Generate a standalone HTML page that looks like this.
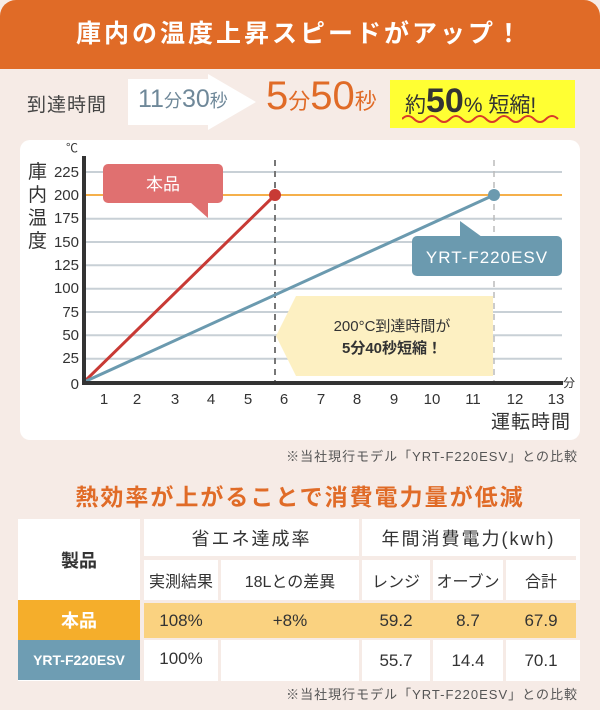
<!DOCTYPE html>
<html><head><meta charset="utf-8">
<style>
*{margin:0;padding:0;box-sizing:border-box}
body{width:600px;height:710px;background:#F6EBE6;font-family:"Liberation Sans","Noto Sans CJK JP",sans-serif;position:relative;overflow:hidden;color:#333}
.a{position:absolute;white-space:nowrap}
.hdr{left:0;top:0;width:600px;height:69px;background:#E06B27;border-radius:16px 16px 0 0;color:#fff;font-size:25px;font-weight:bold;text-align:center;line-height:68px;letter-spacing:3px}
.c{position:absolute;background:#fff;display:flex;align-items:center;justify-content:center;font-size:17px;color:#333}
</style></head><body>
<div class="a hdr">庫内の温度上昇スピードがアップ！</div>

<div class="a" style="left:27px;top:90px;font-size:19px;color:#444;letter-spacing:1px">到達時間</div>
<svg class="a" style="left:128px;top:74px" width="130" height="56"><polygon points="0,5 80,5 80,0 128,28 80,56 80,51 0,51" fill="#fff"/></svg>
<div class="a" style="left:138px;top:85px;color:#6F8899;font-size:25px">11<span style="font-size:18px">分</span>30<span style="font-size:18px">秒</span></div>
<div class="a" style="left:266px;top:74px;color:#E06B27;font-size:40px">5<span style="font-size:22px">分</span>50<span style="font-size:22px">秒</span></div>
<div class="a" style="left:390px;top:80px;width:185px;height:48px;background:#FFFF33"></div>
<div class="a" style="left:405px;top:82px;font-size:21px;color:#333">約<span style="font-size:34px;font-weight:bold">50</span>% 短縮!</div>
<svg class="a" style="left:402px;top:114px" width="162" height="10"><path d="M0,5 q6,-6 12,0 t12,0 t12,0 t12,0 t12,0 t12,0 t12,0 t12,0 t12,0 t12,0 t12,0 t12,0 t12,0" stroke="#D83A2A" stroke-width="2" fill="none"/></svg>

<div class="a" style="left:20px;top:140px;width:560px;height:300px;background:#fff;border-radius:10px"></div>
<svg class="a" style="left:0;top:0" width="600" height="440" font-family="Liberation Sans,Noto Sans CJK JP,sans-serif">
<g stroke="#C8D0D6" stroke-width="2">
<line x1="84" x2="562" y1="172" y2="172"/><line x1="84" x2="562" y1="218.7" y2="218.7"/><line x1="84" x2="562" y1="242" y2="242"/><line x1="84" x2="562" y1="265.3" y2="265.3"/><line x1="84" x2="562" y1="288.7" y2="288.7"/><line x1="84" x2="562" y1="312" y2="312"/><line x1="84" x2="562" y1="335.3" y2="335.3"/><line x1="84" x2="562" y1="358.7" y2="358.7"/>
</g>
<line x1="84" x2="562" y1="195" y2="195" stroke="#F5B04B" stroke-width="2"/>
<line x1="275" x2="275" y1="160" y2="382" stroke="#777" stroke-width="2" stroke-dasharray="6,5"/>
<line x1="494" x2="494" y1="160" y2="382" stroke="#bbb" stroke-width="1.5" stroke-dasharray="6,5"/>
<polygon points="276,336 296,296 493,296 493,376 296,376" fill="#FDF0C2"/>
<text x="392" y="331" font-size="15" text-anchor="middle" fill="#333">200°C到達時間が</text>
<text x="392" y="353" font-size="15" font-weight="bold" text-anchor="middle" fill="#333">5分40秒短縮！</text>
<line x1="84" y1="382" x2="275" y2="195" stroke="#C83A35" stroke-width="3"/>
<line x1="84" y1="382" x2="494" y2="195" stroke="#6B9AAF" stroke-width="3"/>
<circle cx="275" cy="195" r="6" fill="#C83A35"/>
<circle cx="494" cy="195" r="6" fill="#6B9AAF"/>
<rect x="103" y="164" width="120" height="39" rx="5" fill="#E07070"/>
<polygon points="190,202 208,202 208,218" fill="#E07070"/>
<text x="163" y="190" font-size="17" fill="#fff" text-anchor="middle">本品</text>
<rect x="412" y="236" width="150" height="40" rx="5" fill="#6B9AAF"/>
<polygon points="460,237 482,237 460,221" fill="#6B9AAF"/>
<text x="487" y="263" font-size="17" fill="#fff" text-anchor="middle" letter-spacing="1">YRT-F220ESV</text>
<line x1="84" y1="156" x2="84" y2="385" stroke="#333" stroke-width="4"/>
<line x1="82" y1="383" x2="563" y2="383" stroke="#333" stroke-width="4"/>
<g font-size="15" fill="#333" text-anchor="end">
<text x="79" y="177">225</text><text x="79" y="200">200</text><text x="79" y="223">175</text><text x="79" y="247">150</text><text x="79" y="270">125</text><text x="79" y="293">100</text><text x="79" y="317">75</text><text x="79" y="340">50</text><text x="79" y="363">25</text><text x="79" y="389">0</text>
</g>
<text x="66" y="152" font-size="12" fill="#333">℃</text>
<g font-size="19" fill="#333"><text x="28" y="178">庫</text><text x="28" y="201">内</text><text x="28" y="224">温</text><text x="28" y="247">度</text></g>
<g font-size="15" fill="#333" text-anchor="middle">
<text x="104" y="404">1</text><text x="137" y="404">2</text><text x="175" y="404">3</text><text x="211" y="404">4</text><text x="248" y="404">5</text><text x="284" y="404">6</text><text x="321" y="404">7</text><text x="357" y="404">8</text><text x="394" y="404">9</text><text x="432" y="404">10</text><text x="473" y="404">11</text><text x="515" y="404">12</text><text x="556" y="404">13</text>
</g>
<text x="563" y="387" font-size="12" fill="#333">分</text>
<text x="571" y="428" font-size="19" fill="#333" text-anchor="end" letter-spacing="1">運転時間</text>
</svg>
<div class="a" style="right:22px;top:446px;font-size:13px;color:#555;letter-spacing:1px">※当社現行モデル「YRT-F220ESV」との比較</div>
<div class="a" style="left:0;width:600px;top:478px;text-align:center;font-size:23px;font-weight:bold;color:#E06B27;letter-spacing:2px">熱効率が上がることで消費電力量が低減</div>

<div class="a" style="left:18px;top:519px;width:562px;height:162px;background:#fff"></div>
<div class="c" style="left:18px;top:519px;width:122px;height:81px;font-weight:bold;font-size:18px">製品</div>
<div class="c" style="left:144px;top:519px;width:215px;height:37px;font-size:18px;letter-spacing:2px">省エネ達成率</div>
<div class="c" style="left:361px;top:519px;width:215px;height:37px;font-size:18px;letter-spacing:2px">年間消費電力(kwh)</div>
<div class="a" style="left:144px;top:556px;width:432px;height:4px;background:#F6EBE6"></div>
<div class="a" style="left:140px;top:519px;width:4px;height:162px;background:#F6EBE6"></div>
<div class="a" style="left:359px;top:519px;width:3px;height:162px;background:#F6EBE6"></div>
<div class="a" style="left:218px;top:560px;width:3px;height:121px;background:#F6EBE6"></div>
<div class="a" style="left:430px;top:560px;width:3px;height:121px;background:#F6EBE6"></div>
<div class="a" style="left:503px;top:560px;width:3px;height:121px;background:#F6EBE6"></div>
<div class="c" style="left:144px;top:560px;width:74px;height:40px;font-size:16px">実測結果</div>
<div class="c" style="left:221px;top:560px;width:138px;height:40px;font-size:16px">18Lとの差異</div>
<div class="c" style="left:362px;top:560px;width:68px;height:40px;font-size:16px">レンジ</div>
<div class="c" style="left:433px;top:560px;width:70px;height:40px;font-size:16px">オーブン</div>
<div class="c" style="left:506px;top:560px;width:70px;height:40px;font-size:16px">合計</div>
<div class="a" style="left:18px;top:600px;width:562px;height:40px;background:#F6EBE6"></div>
<div class="c" style="left:18px;top:600px;width:122px;height:40px;background:#F5AE2B;color:#fff;font-weight:bold;font-size:18px">本品</div>
<div class="a" style="left:144px;top:603px;width:432px;height:35px;background:#FAD280"></div>
<div class="c" style="left:144px;top:603px;width:74px;height:35px;background:none">108%</div>
<div class="c" style="left:221px;top:603px;width:138px;height:35px;background:none">+8%</div>
<div class="c" style="left:362px;top:603px;width:68px;height:35px;background:none">59.2</div>
<div class="c" style="left:433px;top:603px;width:70px;height:35px;background:none">8.7</div>
<div class="c" style="left:506px;top:603px;width:70px;height:35px;background:none">67.9</div>
<div class="c" style="left:18px;top:640px;width:122px;height:40px;background:#6E9DB3;color:#fff;font-weight:bold;font-size:14px">YRT-F220ESV</div>
<div class="c" style="left:144px;top:640px;width:74px;height:38px;background:none">100%</div>
<div class="c" style="left:362px;top:642px;width:68px;height:38px">55.7</div>
<div class="c" style="left:433px;top:642px;width:70px;height:38px">14.4</div>
<div class="c" style="left:506px;top:642px;width:70px;height:38px">70.1</div>
<div class="a" style="right:22px;top:684px;font-size:13px;color:#555;letter-spacing:1px">※当社現行モデル「YRT-F220ESV」との比較</div>
</body></html>
